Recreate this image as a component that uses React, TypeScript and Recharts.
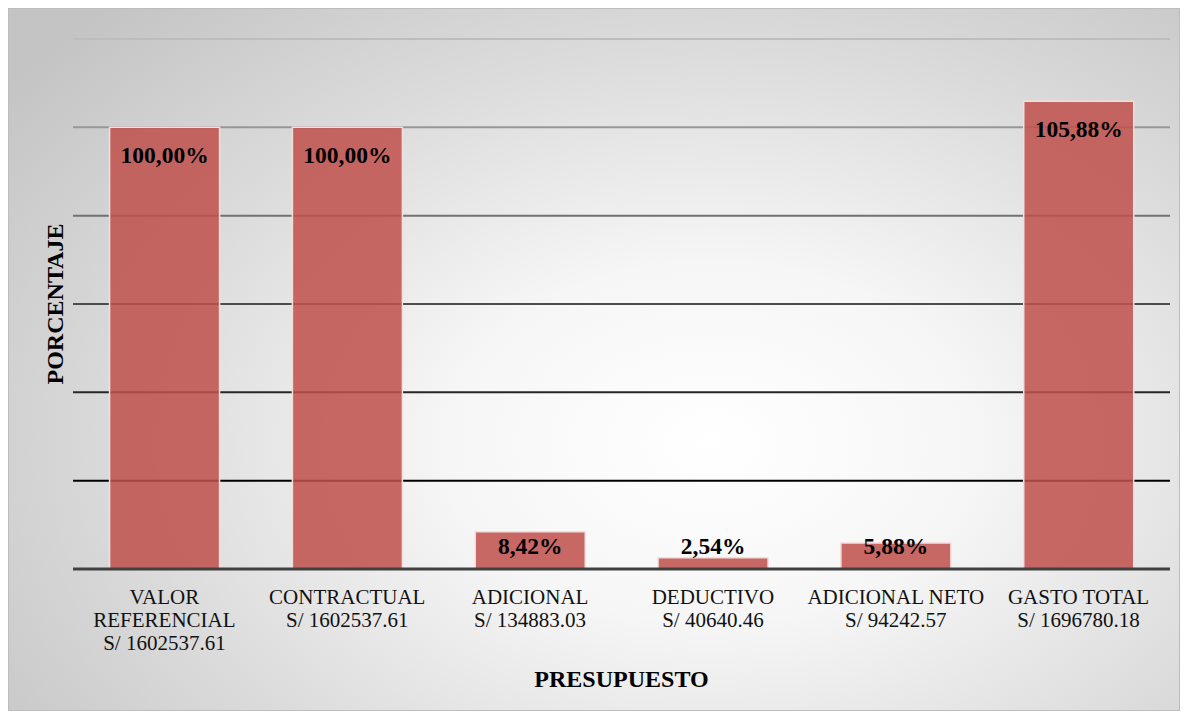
import React from 'react';
import { BarChart, Bar, XAxis, YAxis, CartesianGrid, LabelList } from 'recharts';

const categoryLines: string[][] = [
  ['VALOR', 'REFERENCIAL'],
  ['CONTRACTUAL'],
  ['ADICIONAL'],
  ['DEDUCTIVO'],
  ['ADICIONAL NETO'],
  ['GASTO TOTAL'],
];
const amounts: string[] = [
  'S/ 1602537.61',
  'S/ 1602537.61',
  'S/ 134883.03',
  'S/ 40640.46',
  'S/ 94242.57',
  'S/ 1696780.18',
];
const percents: number[] = [100, 100, 8.42, 2.54, 5.88, 105.88];
const yTicks: number[] = [0, 20, 40, 60, 80, 100, 120];

const data = categoryLines.map((lines, i) => ({
  name: lines.join(' '),
  value: percents[i],
}));

const FONT = '"Liberation Serif", "Times New Roman", serif';

const fmt = (v: number) => v.toFixed(2).replace('.', ',') + '%';

const Tick = (props: any) => {
  const { x, y, payload } = props;
  const i = payload.index;
  const lines = [...categoryLines[i], amounts[i]];
  return (
    <text x={x} y={y + 35} textAnchor="middle" fontFamily={FONT} fontSize={21} fill="#111">
      {lines.map((l, k) => (
        <tspan key={k} x={x} dy={k === 0 ? 0 : 23}>
          {l}
        </tspan>
      ))}
    </text>
  );
};

const ValueLabel = (props: any) => {
  const { x, y, width, height, value } = props;
  const cy = Math.min(y + 28, y + height - 23);
  return (
    <text
      x={x + width / 2}
      y={cy}
      textAnchor="middle"
      dominantBaseline="central"
      fontFamily={FONT}
      fontWeight="bold"
      fontSize={23.5}
      fill="#000"
    >
      {fmt(value)}
    </text>
  );
};

const EmptyTick = () => <g />;

export default function App() {
  return (
    <div
      style={{
        width: 1172,
        height: 703,
        background:
          'radial-gradient(ellipse 75% 85% at 60% 62%, #ffffff 0%, #f6f6f6 30%, #dcdcdc 65%, #c4c4c4 100%)',
        boxShadow: 'inset 0 0 0 1px #bdbdbd',
      }}
    >
      <BarChart
        width={1172}
        height={703}
        data={data}
        margin={{ top: 31, right: 10, left: 0, bottom: 32 }}
        barCategoryGap="20%"
      >
        <defs>
          <linearGradient id="gridGrad" gradientUnits="userSpaceOnUse" x1="0" y1="31" x2="0" y2="473">
            <stop offset="0%" stopColor="#bdbdbd" />
            <stop offset="100%" stopColor="#000000" />
          </linearGradient>
        </defs>
        <CartesianGrid vertical={false} stroke="url(#gridGrad)" strokeWidth={2} />
        <YAxis
          width={65}
          domain={[0, 120]}
          ticks={yTicks}
          interval={0}
          tick={<EmptyTick />}
          axisLine={false}
          tickLine={false}
          label={{
            content: (p: any) => {
              const vb = p.viewBox;
              const cx = vb.x + 55;
              const cy = vb.y + vb.height / 2;
              return (
                <text
                  x={cx}
                  y={cy}
                  transform={`rotate(-90, ${cx}, ${cy})`}
                  textAnchor="middle"
                  fontFamily={FONT}
                  fontWeight="bold"
                  fontSize={24}
                  fill="#000"
                >
                  PORCENTAJE
                </text>
              );
            },
          }}
        />
        <XAxis
          dataKey="name"
          height={110}
          interval={0}
          tickLine={false}
          tickSize={0}
          tickMargin={0}
          axisLine={{ stroke: '#404040', strokeWidth: 3 }}
          tick={<Tick />}
          label={{
            content: (p: any) => {
              const vb = p.viewBox;
              return (
                <text
                  x={vb.x + vb.width / 2}
                  y={vb.y + 118}
                  textAnchor="middle"
                  fontFamily={FONT}
                  fontWeight="bold"
                  fontSize={24}
                  fill="#000"
                >
                  PRESUPUESTO
                </text>
              );
            },
          }}
        />
        <Bar
          dataKey="value"
          fill="#c0504d"
          fillOpacity={0.86}
          stroke="#f3dede"
          strokeWidth={1.5}
          isAnimationActive={false}
        >
          <LabelList dataKey="value" content={<ValueLabel />} />
        </Bar>
      </BarChart>
    </div>
  );
}
